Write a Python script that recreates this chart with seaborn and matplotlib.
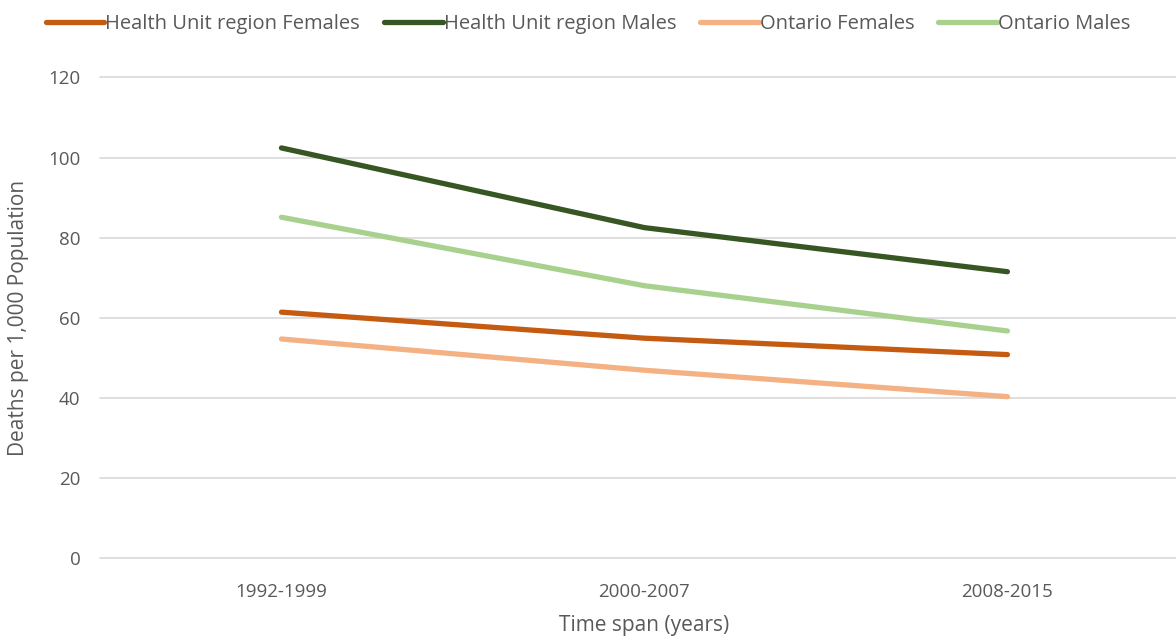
import pandas as pd
import matplotlib.pyplot as plt
import seaborn as sns

# data
periods = ["1992-1999", "2000-2007", "2008-2015"]
hu_females = [61.4, 54.9, 50.8]
hu_males = [102.4, 82.5, 71.5]
on_females = [54.7, 46.9, 40.3]
on_males = [85.1, 68.0, 56.7]

series = ["Health Unit region Females", "Health Unit region Males",
          "Ontario Females", "Ontario Males"]
colors = ["#C55A11", "#375623", "#F4B183", "#A9D18E"]

df = pd.DataFrame({
    "period": periods * 4,
    "value": hu_females + hu_males + on_females + on_males,
    "series": [s for s in series for _ in periods],
})

sns.set_style("white")
plt.rcParams["font.family"] = ["Open Sans", "DejaVu Sans"]
grey = "#595959"

fig = plt.figure(figsize=(11.76, 6.4), dpi=100)
ax = fig.add_axes([0.085, 0.128, 0.926, 0.751])

sns.lineplot(data=df, x="period", y="value", hue="series", palette=colors,
             linewidth=3.8, ax=ax, sort=False, solid_capstyle="round")

ax.set_xlim(-0.5, 2.5)
ax.set_ylim(0, 120)
ax.set_yticks(range(0, 121, 20))
ax.grid(axis="y", color="#D9D9D9", linewidth=1.2)
for gl in ax.get_ygridlines():
    gl.set_clip_on(False)
ax.set_axisbelow(True)
for s in ax.spines.values():
    s.set_visible(False)
ax.tick_params(axis="y", length=0, labelsize=13.5, colors=grey, pad=14)
ax.tick_params(axis="x", length=0, labelsize=13.5, colors=grey, pad=18)
ax.set_xlabel("Time span (years)", fontsize=15, color=grey, labelpad=10)
ax.set_ylabel("Deaths per 1,000 Population", fontsize=15, color=grey, labelpad=14)

handles, labels = ax.get_legend_handles_labels()
ax.legend_.remove()
leg = fig.legend(handles, labels, loc="center", bbox_to_anchor=(0.5, 0.962),
                 ncol=4, frameon=False, fontsize=14.5, handlelength=2.9,
                 handletextpad=0.05, columnspacing=1.2)
for t in leg.get_texts():
    t.set_color(grey)

fig.savefig("out.png", dpi=100)
